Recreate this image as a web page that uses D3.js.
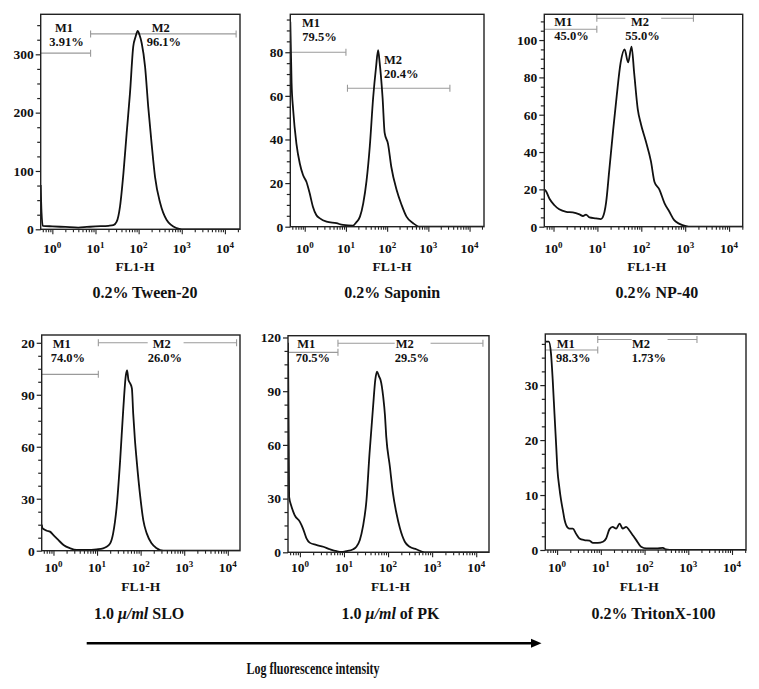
<!DOCTYPE html>
<html><head><meta charset="utf-8">
<script src="https://cdn.jsdelivr.net/npm/d3@7"></script>
<style>body{margin:0;background:#fff} svg{display:block}</style>
</head><body><svg id="c" width="759" height="689"></svg>
<script>
// ================= DATA =================
const panelTitles = ["0.2% Tween-20","0.2% Saponin","0.2% NP-40","1.0 μ/ml SLO","1.0 μ/ml of PK","0.2% TritonX-100"];
const xAxisTitle = "FL1-H";
const bottomTitle = "Log fluorescence intensity";
const xTickValues = [1,10,100,1000,10000];
const xTickExp = ["0","1","2","3","4"];
// x range of each panel (fluorescence units at the left / right frame edges)
const xDomains = [[0.537,22390],[0.447,22390],[0.617,20420],[0.537,19050],[0.537,19500],[0.537,20890]];
const yMax = [368.6,97.4,113.8,124.5,121,39.3];
const yTicks = [[0,100,200,300],[0,20,40,60,80],[0,20,40,60,80,100],[0,30,60,90,120],[0,30,60,90,120],[0,10,20,30]];
const yTickLabels = [["0","100","200","300"],["0","20","40","60","80"],["0","20","40","60","80","100"],["0","30","60","90","20"],["0","30","60","90","120"],["0","10","20","30"]];

// histograms: [FL1-H intensity, count]
const tween20 = [[0.537,76],[0.56,30],[0.60,6],[1,5],[2,4],[4,3],[6.3,4],[10,5],[20,6],[26,7],[31,13],[37,39],[44.4,96],[52.8,165],[63,233],[75,313],[85,330],[95,340],[105,333],[118,319],[141,279],[167,210],[200,147],[240,90],[316,45],[447,16],[760,2],[1000,0],[22390,0]];
const saponin = [[0.447,94],[0.48,66],[0.525,53.5],[0.63,38],[0.76,29],[0.91,23.7],[1.10,20.6],[1.32,15.3],[1.58,9.2],[1.91,5.4],[2.34,3.8],[3.39,2.3],[5.9,1.6],[8.5,0.8],[14.8,0.5],[17.8,2],[21.9,4.6],[26.3,10.7],[31.6,21],[38,37],[45.7,59],[53.7,73],[60.3,81],[66,75],[77.6,59],[87,43],[105,38],[126,27.5],[170,16.8],[224,10],[295,4.6],[427,1.6],[617,0],[22390,0]];
const np40 = [[0.617,20],[0.676,19],[0.81,15],[1.05,11.5],[1.35,9.3],[1.95,8],[2.75,7.7],[3.9,6.6],[4.7,5.7],[5.5,6.5],[6.6,5],[9.3,4.5],[12,4.1],[13.2,5],[15.8,13],[18.6,30],[22.9,52],[27.5,70],[33.9,88],[41.7,95],[50,88],[60,96.5],[69,82],[83,63],[98,55],[126,46],[166,35],[200,24],[257,20],[339,12.5],[437,8],[562,3.5],[741,1.5],[1047,0.3],[1349,0],[20420,0]];
const slo = [[0.537,15],[0.56,13],[0.59,12.5],[0.71,11.5],[0.83,11],[1.0,9],[1.29,6.2],[1.7,3.3],[2.4,1.4],[3.4,0.4],[5.8,0.4],[9.8,0.8],[13.8,1.4],[16.6,2.3],[20,4.2],[23.4,10],[28.2,25.4],[33.9,52.3],[39.8,81],[45.7,101],[49,104],[52.5,98.5],[57.5,96.6],[63,93.7],[67.6,79],[74,63.9],[81,52.3],[98,31.2],[115,17.7],[138,10],[178,4.3],[234,1.4],[331,0],[19050,0]];
const pk = [[0.537,117],[0.569,31],[0.646,25.5],[0.759,20.8],[1.0,17],[1.17,13.4],[1.41,7.8],[1.66,5.4],[2.34,4.1],[3.39,3.1],[4.8,1.7],[6.8,0.6],[8.7,0.2],[11.2,0.6],[16.2,1.7],[19.1,3.1],[22.9,6.9],[26.9,14.3],[32.4,29.2],[38,55.3],[45.7,81.3],[51.3,96.3],[56.2,100.9],[63,98],[67.6,96.3],[77.6,86.9],[85,76.7],[91,64.6],[110,47.8],[129,33],[155,21.8],[186,13.4],[240,5.9],[309,3.1],[437,1.7],[676,0],[19500,0]];
const triton = [[0.537,37.9],[0.646,37.9],[0.724,35.8],[0.794,30.9],[0.871,24.8],[0.955,18.8],[1.02,14.5],[1.12,11.5],[1.23,9.1],[1.35,7.3],[1.48,5.5],[1.62,4.5],[1.91,3.9],[2.29,3.9],[2.69,3.0],[3.24,2.1],[4.17,1.8],[5.5,1.7],[6.6,1.3],[8.5,1.3],[11.2,1.5],[13.2,2.1],[15.8,3.8],[18.6,4.2],[22.4,3.9],[26.9,4.8],[31.6,3.9],[38,4.2],[44.7,3.6],[53.7,2.7],[64.6,1.8],[83.2,0.6],[110,0.3],[186,0.3],[263,0.4],[309,0.1],[447,0],[20890,0]];
const series = [tween20,saponin,np40,slo,pk,triton];

// markers M1 / M2: [from, to, count level]  (null = left edge)
const gateNames = ["M1","M2"];
const gates = [
  [[null,7.7,302],[7.7,18200,335]],
  [[null,10,80],[10.9,3330,63.5]],
  [[null,9.7,105.8],[9.7,1540,111.7]],
  [[null,10.7,101.8],[10.7,15900,120]],
  [[null,7.3,111.7],[7.3,14200,116.8]],
  [[null,8.5,36.4],[8.5,1580,38.3]]
];
const gatePct = [["3.91%","96.1%"],["79.5%","20.4%"],["45.0%","55.0%"],["74.0%","26.0%"],["70.5%","29.5%"],["98.3%","1.73%"]];

// ================= LAYOUT =================
const boxes = [[40.7,14.3,240,229.3],[290.3,14.3,484,226.7],[544.3,14.3,742.7,226.7],[41.7,335,240,550.7],[288,335.7,489,552.3],[545.3,334,746,550]];
const xLabelBase = [252.5,252.5,252.5,571.5,571.5,571.5];
const fl1Pos = [[135,271],[392,271],[646.8,271],[140.8,591],[390.5,591],[639.3,591]];
const titlePos = [[145,298],[392.2,298],[656.8,298],[139.2,618.5],[390.5,618.5],[653.5,618.5]];
// label offsets relative to frame: [nameX, nameBaseline, pctX]; pct baseline = name + LINE
const labelPos = [
  [[14.3,17.7,8.6],[111,17.7,106]],
  [[11.7,12.7,12],[93.7,49.2,93.7]],
  [[10,11.8,10],[86.7,11.8,81]],
  [[11,13.2,9],[111,13.2,106]],
  [[9.3,12.6,7.7],[107.7,12.6,106.7]],
  [[11.4,13.6,10.7],[86.7,13.6,86.4]]
];
const LINE = 14;
const maskM2 = [false,false,true,true,true,true];

const FONT = "'Liberation Serif','Times New Roman',serif";
const INK = "#111";
const svg = d3.select("#c");
svg.append("rect").attr("width",759).attr("height",689).attr("fill","#fff");
const defs = svg.append("defs");

series.forEach((data,i)=>{
  const [x0,y0,x1,y1] = boxes[i];
  const x = d3.scaleLog().domain(xDomains[i]).range([x0,x1]);
  const y = d3.scaleLinear().domain([0,yMax[i]]).range([y1,y0]);
  const g = svg.append("g");
  const cid = "clip"+i;
  defs.append("clipPath").attr("id",cid).append("rect")
    .attr("x",x0).attr("y",y0).attr("width",x1-x0).attr("height",y1-y0);

  // gate lines
  const gg = g.append("g").attr("stroke","#9a9a9a").attr("stroke-width",1.1).attr("fill","none");
  gates[i].forEach(gt=>{
    const a = gt[0]==null ? xDomains[i][0] : gt[0];
    const xa = x(a), xb = x(gt[1]), yy = y(gt[2]);
    gg.append("line").attr("x1",xa).attr("x2",xb).attr("y1",yy).attr("y2",yy);
    if (gt[0]!=null) gg.append("line").attr("x1",xa).attr("x2",xa).attr("y1",yy-3.5).attr("y2",yy+3.5);
    gg.append("line").attr("x1",xb).attr("x2",xb).attr("y1",yy-3.5).attr("y2",yy+3.5);
  });

  // gate labels
  gates[i].forEach((gt,k)=>{
    const lp = labelPos[i][k];
    const lg = g.append("g");
    const t1 = lg.append("text").attr("x",x0+lp[0]).attr("y",y0+lp[1]).text(gateNames[k]);
    const t2 = lg.append("text").attr("x",x0+lp[2]).attr("y",y0+lp[1]+LINE).text(gatePct[i][k]);
    lg.selectAll("text").attr("font-family",FONT).attr("font-weight","bold").attr("font-size",12.5).attr("fill",INK);
    if (k===1 && maskM2[i]) {
      const b1 = t1.node().getBBox(), b2 = t2.node().getBBox();
      const l = Math.min(b1.x,b2.x), r = Math.max(b1.x+b1.width,b2.x+b2.width);
      const t = Math.min(b1.y,b2.y), bt = Math.max(b1.y+b1.height,b2.y+b2.height);
      lg.insert("rect","text").attr("x",l).attr("y",t).attr("width",r-l+1.5).attr("height",bt-t).attr("fill","#fff");
    }
  });

  // histogram curve
  g.append("path").datum(data)
    .attr("clip-path",`url(#${cid})`)
    .attr("d", d3.line().x(d=>x(d[0])).y(d=>y(d[1])).curve(d3.curveMonotoneX))
    .attr("fill","none").attr("stroke",INK).attr("stroke-width",1.8).attr("stroke-linejoin","round");

  // frame
  g.append("rect").attr("x",x0).attr("y",y0).attr("width",x1-x0).attr("height",y1-y0)
    .attr("fill","none").attr("stroke","#222").attr("stroke-width",1.4);

  // y axis: major + minor ticks
  const step = yTicks[i][1]-yTicks[i][0];
  const minorY = d3.range(0, yMax[i], step/4).filter(v=>!yTicks[i].includes(v));
  const yMinor = g.append("g").attr("transform",`translate(${x0},0)`)
    .call(d3.axisLeft(y).tickValues(minorY).tickFormat("").tickSize(3.5));
  const yMajor = g.append("g").attr("transform",`translate(${x0},0)`)
    .call(d3.axisLeft(y).tickValues(yTicks[i]).tickFormat((d,k)=>yTickLabels[i][k]).tickSize(5).tickPadding(2));
  [yMinor,yMajor].forEach(ax=>{
    ax.select(".domain").remove();
    ax.selectAll("line").attr("stroke","#222").attr("stroke-width",1.2);
  });
  yMajor.selectAll("text").attr("font-family",FONT).attr("font-weight","bold").attr("font-size",13.5).attr("fill",INK);

  // x axis: log major + minor ticks
  const minorX = [];
  [0.1,1,10,100,1000,10000].forEach(dec=>{
    for (let m=2;m<=9;m++){ const v=m*dec; if (v>xDomains[i][0] && v<xDomains[i][1]) minorX.push(v); }
  });
  const xMinor = g.append("g").attr("transform",`translate(0,${y1})`)
    .call(d3.axisBottom(x).tickValues(minorX).tickFormat("").tickSize(3));
  const xMajor = g.append("g").attr("transform",`translate(0,${y1})`)
    .call(d3.axisBottom(x).tickValues(xTickValues).tickFormat("").tickSize(5));
  [xMinor,xMajor].forEach(ax=>{
    ax.select(".domain").remove();
    ax.selectAll("line").attr("stroke","#222").attr("stroke-width",1.1);
  });
  // x tick labels "10^n"
  xTickValues.forEach((v,k)=>{
    const t = g.append("text").attr("x",x(v)).attr("y",xLabelBase[i])
      .attr("text-anchor","middle").attr("font-family",FONT).attr("font-weight","bold")
      .attr("font-size",13.5).attr("fill",INK);
    t.append("tspan").text("10");
    t.append("tspan").attr("dy",-5).attr("font-size",9).text(xTickExp[k]);
  });

  // FL1-H
  g.append("text").attr("x",fl1Pos[i][0]).attr("y",fl1Pos[i][1]).attr("text-anchor","middle")
    .attr("font-family",FONT).attr("font-weight","bold").attr("font-size",13.5).attr("fill",INK).text(xAxisTitle);

  // panel title with italic unit
  const tt = g.append("text").attr("x",titlePos[i][0]).attr("y",titlePos[i][1]).attr("text-anchor","middle")
    .attr("font-family",FONT).attr("font-weight","bold").attr("font-size",16).attr("fill",INK);
  panelTitles[i].split(/(μ\/ml)/).filter(s=>s.length).forEach(part=>{
    const ts = tt.append("tspan").text(part);
    if (part==="μ/ml") ts.attr("font-style","italic");
  });
});

// bottom arrow
svg.append("line").attr("x1",86.7).attr("x2",533).attr("y1",643.3).attr("y2",643.3)
  .attr("stroke","#000").attr("stroke-width",2.6);
svg.append("path").attr("d","M531,638.8 L541.5,643.3 L531,647.8 Z").attr("fill","#000");
svg.append("text").attr("x",313).attr("y",673.5).attr("text-anchor","middle")
  .attr("font-family",FONT).attr("font-weight","bold").attr("font-size",16).attr("fill",INK)
  .attr("textLength",133).attr("lengthAdjust","spacingAndGlyphs").text(bottomTitle);
</script>
</body></html>
